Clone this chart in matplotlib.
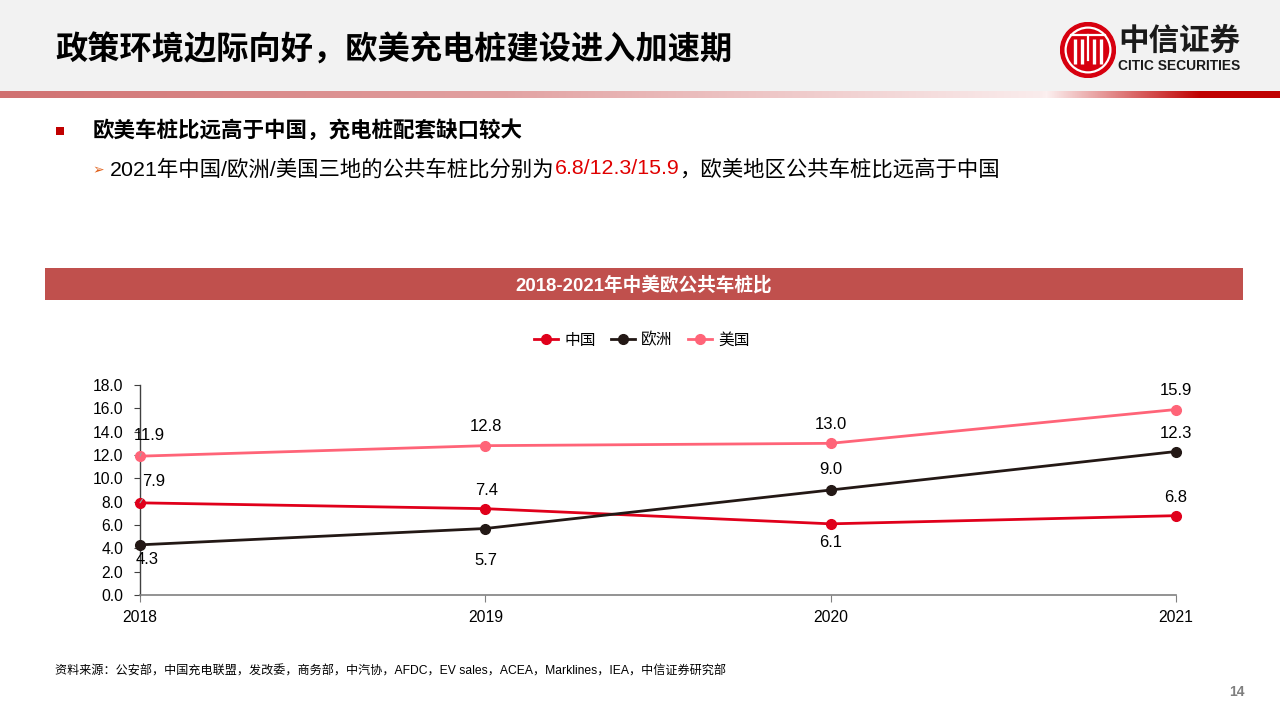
import numpy as np
import matplotlib.pyplot as plt
from matplotlib.patches import Rectangle, Circle

plt.rcParams['font.family'] = ['Liberation Sans', 'Noto Sans CJK SC', 'DejaVu Sans']

# datos
years = [2018, 2019, 2020, 2021]
china = [7.9, 7.4, 6.1, 6.8]
europe = [4.3, 5.7, 9.0, 12.3]
usa = [11.9, 12.8, 13.0, 15.9]
names = ['中国', '欧洲', '美国']
colors = ['#e0001b', '#231815', '#ff6478']
y_ticks = np.arange(0, 18.1, 2)

W, H = 1280, 720
fig = plt.figure(figsize=(12.8, 7.2), dpi=100)


def fx(px):
    return px / W


def fy(py):
    return 1 - py / H


# cabecera gris
fig.patches.append(Rectangle((0, fy(91)), 1, 91 / H, transform=fig.transFigure,
                             facecolor='#f2f2f2', edgecolor='none', zorder=-1))

# barra degradada
xs = np.arange(W)
anchors = [0, 500, 1040, 1046, 1200, 1280]
r = np.interp(xs, anchors, [208, 226, 250, 252, 192, 192])
g = np.interp(xs, anchors, [112, 162, 236, 240, 0, 0])
b = np.interp(xs, anchors, [112, 162, 236, 240, 0, 0])
grad = np.stack([r, g, b], axis=-1)[None, :, :] / 255
ax_g = fig.add_axes([0, fy(98), 1, 7 / H])
ax_g.imshow(grad, aspect='auto')
ax_g.axis('off')

# titulo
fig.text(fx(55), fy(50), '政策环境边际向好，欧美充电桩建设进入加速期', fontsize=23.2,
         fontweight='bold', va='center', ha='left', color='black')

# logo
ax_l = fig.add_axes([fx(1060), fy(78), fx(56), 56 / H])
ax_l.set_xlim(-1, 1)
ax_l.set_ylim(-1, 1)
ax_l.set_aspect('equal')
ax_l.axis('off')
ax_l.add_patch(Circle((0, 0), 0.98, color='#d7000f'))
ax_l.add_patch(Circle((0, 0), 0.8, facecolor='none', edgecolor='white', lw=1.6))
for xv in [-0.48, -0.22, 0.22, 0.48]:
    ax_l.plot([xv, xv], [-0.5, 0.4], color='white', lw=2.4, solid_capstyle='butt')
ax_l.plot([-0.6, 0.6], [0.52, 0.52], color='white', lw=1.6)
ax_l.plot([0, 0], [-0.35, 0.52], color='white', lw=1.6)
fig.text(fx(1118), fy(42), '中信证券', fontsize=22, fontweight='bold', va='center', color='#1a1a1a')
fig.text(fx(1118), fy(66), 'CITIC SECURITIES', fontsize=9.9, fontweight='bold', va='center', color='#1a1a1a')

# viñetas
fig.patches.append(Rectangle((fx(56), fy(135)), fx(8), 8 / H, transform=fig.transFigure,
                             facecolor='#c00000', edgecolor='none'))
fig.text(fx(93), fy(131), '欧美车桩比远高于中国，充电桩配套缺口较大', fontsize=15.5,
         fontweight='bold', va='center')
fig.text(fx(92), fy(170), '➢', fontsize=10, va='center', color='#e0601a')

renderer = fig.canvas.get_renderer()
partes = [('2021年中国/欧洲/美国三地的公共车桩比分别为', 'black'),
          ('6.8/12.3/15.9', '#e00000'),
          ('，欧美地区公共车桩比远高于中国', 'black')]
x = 110
for s, c in partes:
    t = fig.text(fx(x), fy(169), s, fontsize=15.4, va='center', color=c)
    x += t.get_window_extent(renderer).width

# banda del titulo del grafico
fig.patches.append(Rectangle((fx(45), fy(300)), fx(1198), 32 / H, transform=fig.transFigure,
                             facecolor='#c0504d', edgecolor='none'))
fig.text(fx(644), fy(285), '2018-2021年中美欧公共车桩比', fontsize=13.4, fontweight='bold',
         color='white', ha='center', va='center')

# grafico
ax = fig.add_axes([fx(140), fy(595), fx(1036), 210 / H])
series = [china, europe, usa]
for vals, name, c in zip(series, names, colors):
    ax.plot(years, vals, color=c, lw=2, marker='o', markersize=7, label=name,
            clip_on=False, zorder=3)

ax.set_xlim(2018, 2021)
ax.set_ylim(0, 18)
ax.set_xticks(years)
ax.set_yticks(y_ticks)
ax.set_yticklabels([f'{v:.1f}' for v in y_ticks])
ax.tick_params(axis='y', labelsize=11.3, length=4, pad=8, color='#404040')
ax.tick_params(axis='x', labelsize=11.3, length=5, pad=6, color='#808080')
for s in ['top', 'right']:
    ax.spines[s].set_visible(False)
ax.spines['left'].set_color('#404040')
ax.spines['bottom'].set_color('#808080')
ax.spines['left'].set_linewidth(1)
ax.spines['bottom'].set_linewidth(1.2)

# desplazamientos de etiquetas (px)
offsets = [
    [(14, 21), (1, 18), (0, -19), (0, 18)],
    [(7, -15), (1, -32), (0, 20), (0, 18)],
    [(9, 21), (1, 19), (0, 19), (0, 19)],
]
for vals, offs in zip(series, offsets):
    for i, (xv, yv) in enumerate(zip(years, vals)):
        dx, dy = offs[i]
        kw = {}
        if i == 0 and dy > 0:
            kw['arrowprops'] = dict(arrowstyle='-', color='#a0a0a0', lw=0.8,
                                    shrinkA=6, shrinkB=4)
        ax.annotate(f'{yv:.1f}', (xv, yv), xytext=(dx * 0.72, dy * 0.72),
                    textcoords='offset points', ha='center', va='center',
                    fontsize=12, color='black', annotation_clip=False, **kw)

fig.legend(loc='center', bbox_to_anchor=(fx(642), fy(340)), ncol=3, frameon=False,
           fontsize=11.3, handlelength=1.5, handletextpad=0.4, columnspacing=1.0)

# fuente y pagina
fig.text(fx(55), fy(672), '资料来源：公安部，中国充电联盟，发改委，商务部，中汽协，AFDC，EV sales，ACEA，Marklines，IEA，中信证券研究部',
         fontsize=8.7, va='center')
fig.text(fx(1237), fy(692), '14', fontsize=10, fontweight='bold', color='#7f7f7f',
         ha='center', va='center')

fig.savefig('out.png', dpi=100)
